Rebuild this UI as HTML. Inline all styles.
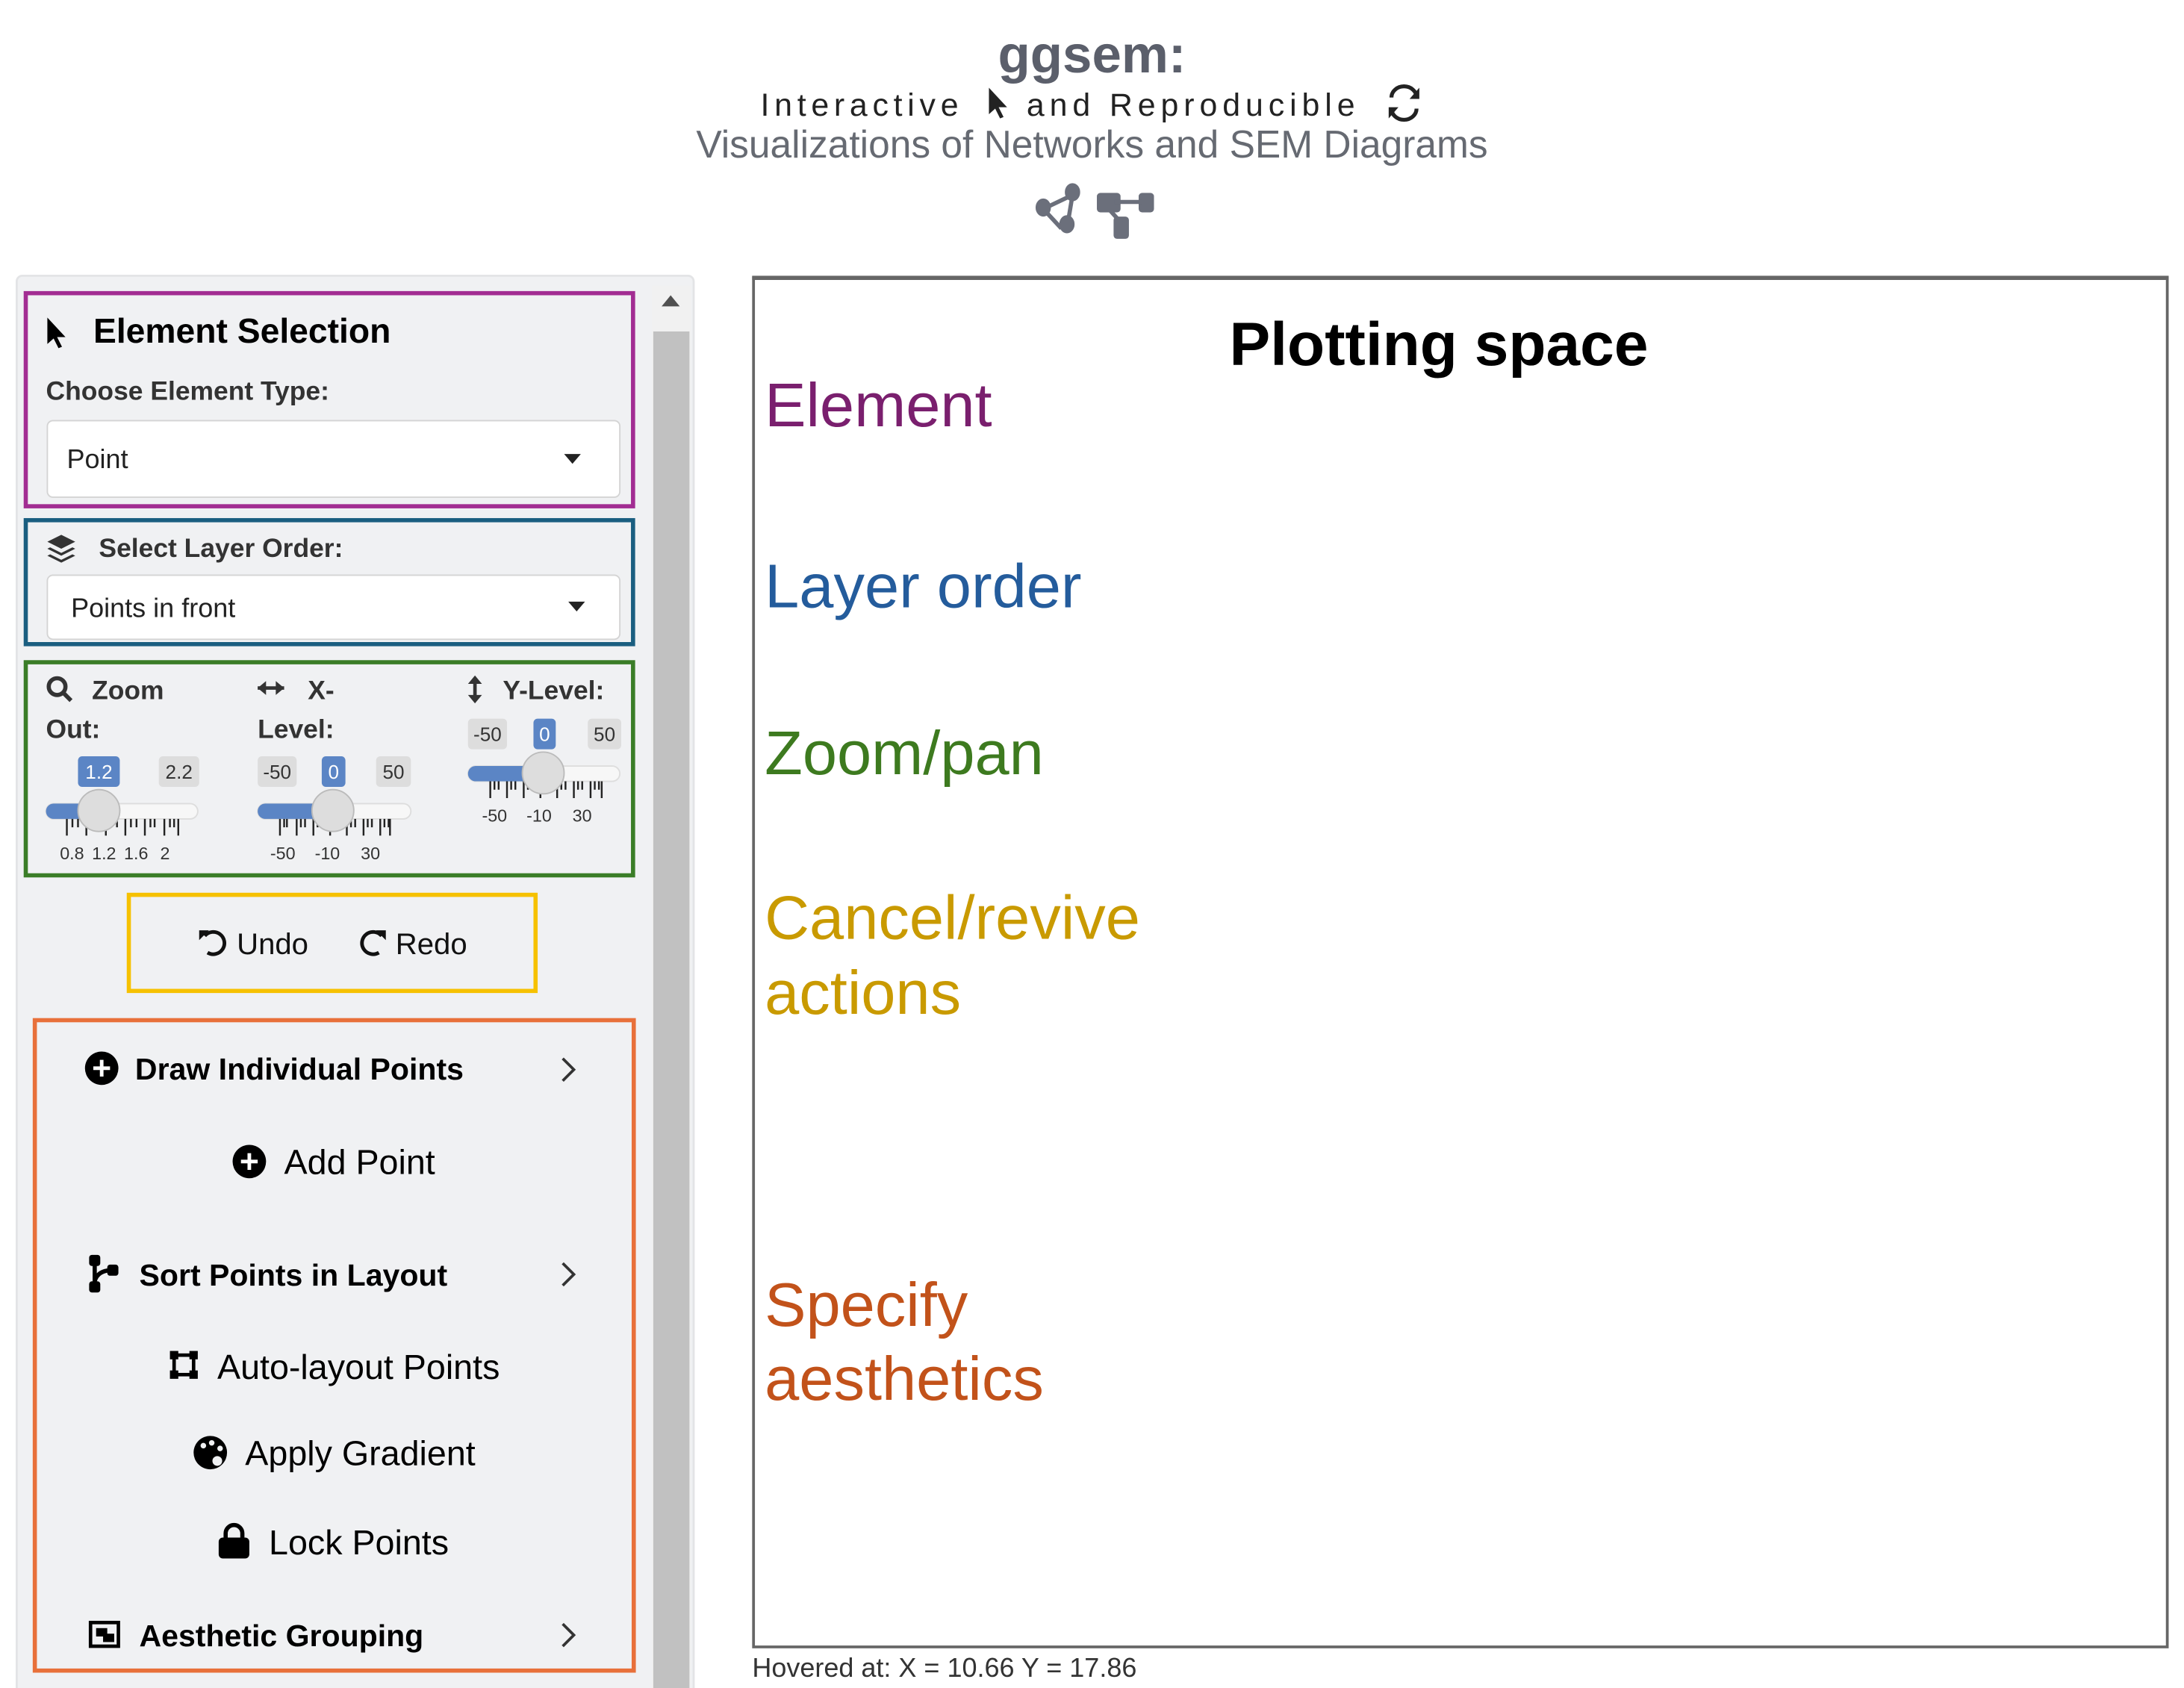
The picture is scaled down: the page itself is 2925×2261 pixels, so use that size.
<!DOCTYPE html>
<html><head><meta charset="utf-8"><style>
html,body{margin:0;padding:0;background:#fff;width:2925px;height:2261px;overflow:hidden}
svg{display:block}
text{font-family:"Liberation Sans",Arial,sans-serif}
</style></head><body>
<svg width="2925" height="2261" viewBox="0 0 1568 1212" preserveAspectRatio="none" xmlns="http://www.w3.org/2000/svg">
<!-- Header -->
<text x="784" y="52" text-anchor="middle" font-size="38" font-weight="bold" fill="#5b5f6b">ggsem:</text>
<text x="546" y="83" font-size="23" letter-spacing="3.6" fill="#222">Interactive</text>
<path d="M710 63 L710 82 L714.5 78 L718 85 L720.5 84 L717 77 L723 77 Z" fill="#222"/>
<text x="737" y="83" font-size="23" letter-spacing="3.7" fill="#222">and Reproducible</text>
<g fill="none" stroke="#222" stroke-width="2.8">
<path d="M1017 70 A9 8 0 0 0 999 70"/><path d="M999 78 A9 8 0 0 0 1017 78"/>
</g>
<path d="M1019 63 L1019 71 L1012 71 Z" fill="#222"/><path d="M997 85 L997 77 L1004 77 Z" fill="#222"/>
<text x="784" y="113" text-anchor="middle" font-size="27.6" fill="#666a72">Visualizations of Networks and SEM Diagrams</text>
<!-- top icons -->
<g fill="#6b6f7b" stroke="#6b6f7b">
<line x1="749" y1="150" x2="770" y2="140" stroke-width="3"/><line x1="749" y1="150" x2="762" y2="164" stroke-width="3"/><line x1="770" y1="140" x2="766" y2="164" stroke-width="3"/>
<ellipse cx="749" cy="149" rx="5" ry="6"/><ellipse cx="770" cy="138" rx="5" ry="6"/><ellipse cx="766" cy="161" rx="5" ry="6"/>
<rect x="788" y="139" width="16" height="13" rx="2"/><rect x="818" y="139" width="10" height="13" rx="2"/><rect x="800" y="156" width="10" height="15" rx="2"/>
<line x1="800" y1="145" x2="820" y2="145" stroke-width="3"/><line x1="796" y1="150" x2="805" y2="160" stroke-width="3"/>
</g>
<!-- sidebar -->
<rect x="12" y="198" width="486" height="1030" rx="4" fill="#f0f1f3" stroke="#e3e4e6" stroke-width="1.5"/>
<rect x="468" y="205" width="28" height="1010" fill="#f1f1f1"/>
<rect x="469" y="238" width="26" height="980" fill="#c1c1c1"/>
<path d="M475 220 L488 220 L481.5 212 Z" fill="#505050"/>
<!-- purple -->
<rect x="18.5" y="210.5" width="436" height="153" fill="none" stroke="#a22d92" stroke-width="3"/>
<path d="M34 228 L34 247 L38.5 243 L42 250 L44.5 249 L41 242 L47 242 Z" fill="#000"/>
<text x="67" y="246" font-size="24.8" font-weight="bold" fill="#000">Element Selection</text>
<text x="33" y="287" font-size="19" font-weight="bold" fill="#333">Choose Element Type:</text>
<rect x="34" y="302" width="411" height="55" rx="4" fill="#fff" stroke="#d4d4d4"/>
<text x="48" y="336" font-size="19.3" fill="#222">Point</text>
<path d="M405 326 L417 326 L411 333 Z" fill="#222"/>
<!-- blue -->
<rect x="18.5" y="373.5" width="436" height="89" fill="none" stroke="#1a5e80" stroke-width="3"/>
<g fill="#333"><path d="M34 389 L44 384 L54 389 L44 394 Z"/><path d="M34 394 L36 393 L44 397 L52 393 L54 394 L44 399 Z"/><path d="M34 399 L36 398 L44 402 L52 398 L54 399 L44 404 Z"/></g>
<text x="71" y="400" font-size="19" font-weight="bold" fill="#333">Select Layer Order:</text>
<rect x="34" y="413" width="411" height="46" rx="4" fill="#fff" stroke="#d4d4d4"/>
<text x="51" y="443" font-size="19.3" fill="#222">Points in front</text>
<path d="M408 432 L420 432 L414 439 Z" fill="#222"/>
<!-- green -->
<rect x="18.5" y="475.5" width="436" height="153" fill="none" stroke="#3a7d27" stroke-width="3"/>
<g fill="none" stroke="#333" stroke-width="3"><circle cx="41" cy="493" r="6"/><line x1="45" y1="497" x2="51" y2="503"/></g>
<text x="66" y="502" font-size="19" font-weight="bold" fill="#333">Zoom</text>
<text x="33" y="530" font-size="19" font-weight="bold" fill="#333">Out:</text>
<path d="M185 494 L204 494" stroke="#333" stroke-width="2.5"/><path d="M185 494 L191 489 L191 499 Z M204 494 L198 489 L198 499 Z" fill="#333"/>
<text x="221" y="502" font-size="19" font-weight="bold" fill="#333">X-</text>
<text x="185" y="530" font-size="19" font-weight="bold" fill="#333">Level:</text>
<path d="M341 487 L341 503" stroke="#333" stroke-width="2.5"/><path d="M341 485 L336 491 L346 491 Z M341 505 L336 499 L346 499 Z" fill="#333"/>
<text x="361" y="502" font-size="19" font-weight="bold" fill="#333">Y-Level:</text>
<!-- sliders -->
<g font-size="14">
<rect x="56" y="543" width="30" height="22" rx="3" fill="#5b85c5"/><text x="71" y="559" text-anchor="middle" fill="#fff">1.2</text>
<rect x="114" y="543" width="29" height="22" rx="3" fill="#ddd"/><text x="128.5" y="559" text-anchor="middle" fill="#333">2.2</text>
<rect x="33" y="577" width="109" height="11" rx="5.5" fill="#f7f7f7" stroke="#ddd"/><rect x="33" y="577" width="38" height="11" rx="5.5" fill="#5b85c5"/>
<rect x="185" y="543" width="28" height="22" rx="3" fill="#ddd"/><text x="199" y="559" text-anchor="middle" fill="#333">-50</text>
<rect x="231" y="543" width="17" height="22" rx="3" fill="#5b85c5"/><text x="239.5" y="559" text-anchor="middle" fill="#fff">0</text>
<rect x="270" y="543" width="25" height="22" rx="3" fill="#ddd"/><text x="282.5" y="559" text-anchor="middle" fill="#333">50</text>
<rect x="185" y="577" width="110" height="11" rx="5.5" fill="#f7f7f7" stroke="#ddd"/><rect x="185" y="577" width="54" height="11" rx="5.5" fill="#5b85c5"/>
<rect x="336" y="516" width="28" height="22" rx="3" fill="#ddd"/><text x="350" y="532" text-anchor="middle" fill="#333">-50</text>
<rect x="383" y="516" width="16" height="22" rx="3" fill="#5b85c5"/><text x="391" y="532" text-anchor="middle" fill="#fff">0</text>
<rect x="422" y="516" width="24" height="22" rx="3" fill="#ddd"/><text x="434" y="532" text-anchor="middle" fill="#333">50</text>
<rect x="336" y="550" width="109" height="11" rx="5.5" fill="#f7f7f7" stroke="#ddd"/><rect x="336" y="550" width="54" height="11" rx="5.5" fill="#5b85c5"/>
</g>
<g stroke="#222" stroke-width="1.3">
<path d="M48 588v12M52 588v6M56 588v6M62 588v12M66 588v6M69 588v6M76 588v12M80 588v6M84 588v6M90 588v12M94 588v6M98 588v6M104 588v12M108 588v6M111 588v6M118 588v12M122 588v6M125 588v6M128 588v12"/>
<path d="M201 588v12M204 588v6M206 588v6M213 588v12M216 588v6M219 588v6M225 588v12M228 588v6M231 588v6M237 588v12M240 588v6M243 588v6M249 588v12M252 588v6M255 588v6M261 588v12M264 588v6M267 588v6M273 588v12M276 588v6M279 588v6M280 588v12"/>
<path d="M352 561v12M355 561v6M358 561v6M364 561v12M367 561v6M370 561v6M376 561v12M379 561v6M382 561v6M388 561v12M391 561v6M394 561v6M400 561v12M403 561v6M406 561v6M412 561v12M415 561v6M418 561v6M424 561v12M427 561v6M430 561v6M432 561v12"/>
</g>
<circle cx="71" cy="582" r="15" fill="#ddd" stroke="#bbb"/>
<circle cx="239" cy="582" r="15" fill="#ddd" stroke="#bbb"/>
<circle cx="390" cy="555" r="15" fill="#ddd" stroke="#bbb"/>
<g font-size="12.5" fill="#333">
<text x="43" y="617">0.8</text><text x="66" y="617">1.2</text><text x="89" y="617">1.6</text><text x="115" y="617">2</text>
<text x="194" y="617">-50</text><text x="226" y="617">-10</text><text x="259" y="617">30</text>
<text x="346" y="590">-50</text><text x="378" y="590">-10</text><text x="411" y="590">30</text>
</g>
<!-- yellow -->
<rect x="92.5" y="642.5" width="292" height="69" fill="none" stroke="#f6c100" stroke-width="3"/>
<g fill="none" stroke="#111" stroke-width="2.6"><path d="M147 672 A8 8 0 1 1 149 684"/><path d="M274 672 A8 8 0 1 0 272 684"/></g>
<path d="M143 668 L150 668 L143 675 Z" fill="#111"/><path d="M277 668 L270 668 L277 675 Z" fill="#111"/>
<text x="170" y="685" font-size="21.5" fill="#111">Undo</text>
<text x="284" y="685" font-size="21.5" fill="#111">Redo</text>
<!-- orange -->
<rect x="25" y="732.5" width="430" height="467" fill="none" stroke="#e8703a" stroke-width="3"/>
<circle cx="73" cy="767" r="12" fill="#000"/><path d="M73 761v12M67 767h12" stroke="#fff" stroke-width="2.6"/>
<text x="97" y="775" font-size="22" font-weight="bold" fill="#000">Draw Individual Points</text>
<g fill="none" stroke="#333" stroke-width="2"><path d="M404 760 L412 768 L404 776"/><path d="M404 907 L412 915 L404 923"/><path d="M404 1166 L412 1174 L404 1182"/></g>
<circle cx="179" cy="834" r="12" fill="#000"/><path d="M179 828v12M173 834h12" stroke="#fff" stroke-width="2.6"/>
<text x="204" y="843" font-size="25" fill="#000">Add Point</text>
<g fill="#000"><rect x="64" y="901" width="8" height="8" rx="2"/><rect x="64" y="920" width="8" height="8" rx="2"/><rect x="77" y="908" width="8" height="8" rx="2"/></g>
<path d="M68 905 V924 M68 920 Q70 912 81 912" fill="none" stroke="#000" stroke-width="3"/>
<text x="100" y="923" font-size="22" font-weight="bold" fill="#000">Sort Points in Layout</text>
<rect x="125" y="973" width="14" height="14" fill="none" stroke="#000" stroke-width="2.5"/>
<g fill="#000"><rect x="122" y="970" width="6" height="6"/><rect x="136" y="970" width="6" height="6"/><rect x="122" y="984" width="6" height="6"/><rect x="136" y="984" width="6" height="6"/></g>
<text x="156" y="990" font-size="25" fill="#000">Auto-layout Points</text>
<circle cx="151" cy="1043" r="12" fill="#000"/>
<g fill="#f0f1f3"><circle cx="146" cy="1038" r="2"/><circle cx="152" cy="1036" r="2"/><circle cx="158" cy="1040" r="2"/><circle cx="156" cy="1049" r="3.5"/></g>
<text x="176" y="1052" font-size="25" fill="#000">Apply Gradient</text>
<rect x="157" y="1104" width="22" height="15" rx="3" fill="#000"/>
<path d="M162 1105 V1101 A6 6 0 0 1 174 1101 V1105" fill="none" stroke="#000" stroke-width="3"/>
<text x="193" y="1116" font-size="25" fill="#000">Lock Points</text>
<rect x="65" y="1165" width="20" height="17" fill="none" stroke="#000" stroke-width="2.5"/>
<rect x="69" y="1169" width="8" height="6" fill="#000"/><rect x="74" y="1173" width="8" height="6" fill="#000"/>
<text x="100" y="1182" font-size="22" font-weight="bold" fill="#000">Aesthetic Grouping</text>
<!-- plotting space -->
<rect x="541" y="199.5" width="1015" height="983" fill="#fff" stroke="#666" stroke-width="2"/>
<line x1="540" y1="199.5" x2="1557" y2="199.5" stroke="#666" stroke-width="3"/>
<text x="1033" y="262" text-anchor="middle" font-size="44" font-weight="bold" fill="#000">Plotting space</text>
<g font-size="44.5">
<text x="549" y="306" fill="#7a1f6e">Element</text>
<text x="549" y="436" fill="#245c9c">Layer order</text>
<text x="549" y="556" fill="#3d7a1f">Zoom/pan</text>
<text x="549" y="674" fill="#c99a00">Cancel/revive</text>
<text x="549" y="728" fill="#c99a00">actions</text>
<text x="549" y="952" fill="#c2521a">Specify</text>
<text x="549" y="1005" fill="#c2521a">aesthetics</text>
</g>
<text x="540" y="1204" font-size="19.3" fill="#333">Hovered at: X = 10.66 Y = 17.86</text>
</svg>
</body></html>
